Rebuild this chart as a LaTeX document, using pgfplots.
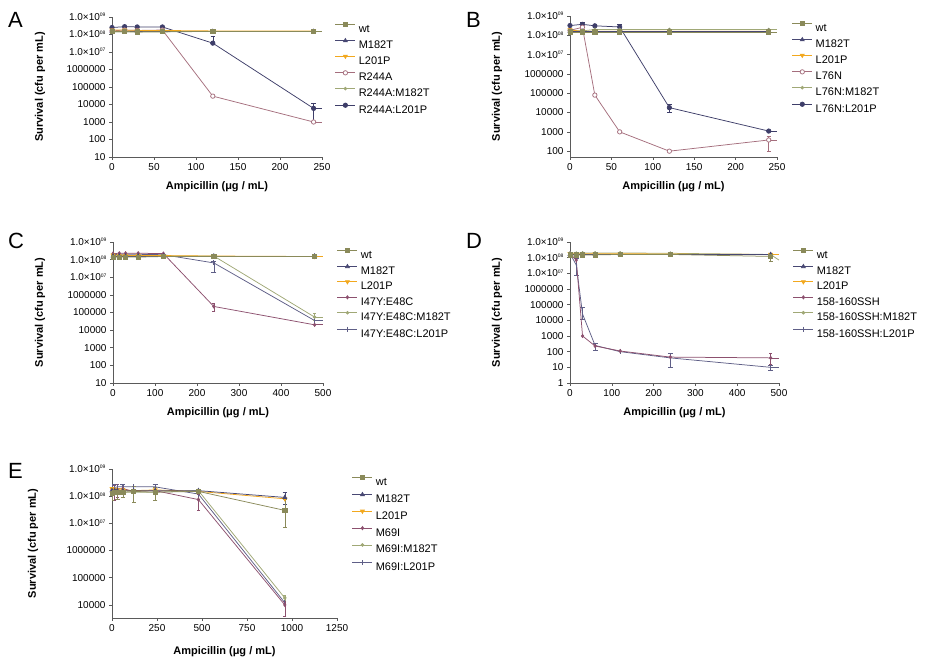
\documentclass[border=0pt]{standalone}
\usepackage{fontspec}
\setmainfont{Liberation Sans}
\usepackage{pgfplots}
\pgfplotsset{compat=1.18}
\definecolor{cwt}{RGB}{138,138,90}
\definecolor{cm182}{RGB}{72,72,115}
\definecolor{cl201}{RGB}{242,168,30}
\definecolor{cmut}{RGB}{165,110,125}
\definecolor{cmutb}{RGB}{140,80,110}
\definecolor{cmutm}{RGB}{160,168,118}
\definecolor{cmutl}{RGB}{62,62,105}
\definecolor{cmutl2}{RGB}{95,95,135}
\definecolor{caxis}{RGB}{90,90,90}
\newcommand\sx[1]{1.0×10\raisebox{3.5pt}{\fontsize{5}{5}\selectfont #1}}
\pgfplotsset{
  myaxisstyle/.style={scale only axis, axis x line=bottom, axis y line=left,
    axis line style={-, caxis, line width=0.8pt}, tick align=outside, major tick length=3pt,
    tick style={caxis, line width=0.6pt}, yminorticks=false, xminorticks=false,
    ticklabel style={font=\fontsize{10}{10}\selectfont, text=black},
    /pgf/number format/assume math mode=true, /pgf/number format/1000 sep={},
    label style={font=\fontsize{11}{11}\selectfont\bfseries},
    xlabel={Ampicillin (μg / mL)}, ylabel={Survival (cfu per mL)},
    legend cell align=left, reverse legend,
    legend image code/.code={\draw[mark repeat=2, mark phase=2, ##1] plot coordinates {(0pt,4pt)(10pt,4pt)(20pt,4pt)};},
    legend style={draw=none, fill=none, inner sep=0pt, outer sep=0pt, font=\fontsize{11}{11}\selectfont,
      nodes={inner sep=0pt, text height=8pt, text depth=0pt}, column sep=3pt, anchor=north west},
    every axis plot/.append style={line width=0.75pt},
    error bars/error bar style={line width=0.6pt},
  },
  swt/.style={color=cwt, mark=square*, mark size=2.1pt},
  sm182/.style={color=cm182, mark=triangle*, mark size=2.2pt},
  sl201/.style={color=cl201, mark=triangle*, mark size=2.2pt, mark options={rotate=180}},
  sopen/.style={color=cmut, mark=*, mark size=2.2pt, mark options={fill=white, draw=cmut}},
  sdiam/.style={color=cmutb, mark=diamond*, mark size=1.6pt},
  smid/.style={color=cmutm, mark=*, mark size=1.4pt},
  sdot/.style={color=cmutl, mark=*, mark size=2.2pt},
  sbar/.style={color=cmutl2, mark=|, mark size=2.5pt},
  eb/.style={error bars/.cd, y dir=both, y explicit},
  stub/.style={forget plot, no marks, line width=0.75pt},
}
\begin{document}
\begin{tikzpicture}
\useasboundingbox (0,0) rectangle (925pt,660pt);
% ---------------- A ----------------
\begin{axis}[ymode=log, myaxisstyle, at={(112pt,503pt)}, anchor=south west, width=210pt, height=140pt,
  xmin=0, xmax=250, ymin=10, ymax=1e9, xtick={0,50,100,150,200,250},
  ytick={10,100,1000,10000,100000,1000000,10000000,100000000,1000000000},
  yticklabels={10,100,1000,10000,100000,1000000,\sx{07},\sx{08},\sx{09}},
  xlabel style={at={(axis description cs:0.5,-0.214)}, anchor=center},
  ylabel style={at={(axis description cs:-0.343,0.5)}, anchor=center},
  legend style={at={(axis description cs:1.062,0.964)}, row sep=6.4pt}]
\addplot[sdot, eb] coordinates {(0,2.5e8)(15,2.8e8)(30,2.7e8)(60,2.7e8)(120,3.2e7) += (0,4.8e7) -= (0,0) (240,6e3) += (0,6e3) -= (0,5e3)};
\addplot[smid] coordinates {(0,1.4e8)(15,1.4e8)(30,1.4e8)(60,1.4e8)(120,1.5e8)(240,1.5e8)};
\addplot[sopen] coordinates {(0,1.6e8)(15,1.8e8)(30,1.7e8)(60,1.8e8)(120,3e4)(240,1000)};
\addplot[sl201] coordinates {(0,1.8e8)(15,1.8e8)(30,1.7e8)(60,1.7e8)(120,1.6e8)(240,1.6e8)};
\addplot[sm182] coordinates {(0,1.5e8)(15,1.5e8)(30,1.5e8)(60,1.5e8)(120,1.5e8)(240,1.5e8)};
\addplot[swt] coordinates {(0,1.5e8)(15,1.5e8)(30,1.4e8)(60,1.45e8)(120,1.5e8)(240,1.5e8)};
\addplot[stub, color=cmutl] coordinates {(240,6e3)(250,6e3)};
\addplot[stub, color=cmut] coordinates {(240,1000)(250,1000)};
\addplot[stub, color=cwt] coordinates {(240,1.5e8)(250,1.5e8)};
\legend{R244A:L201P,R244A:M182T,R244A,L201P,M182T,wt}
\end{axis}
% ---------------- B ----------------
\begin{axis}[ymode=log, myaxisstyle, at={(570pt,503pt)}, anchor=south west, width=207pt, height=141pt,
  xmin=0, xmax=250, ymin=50, ymax=1e9, xtick={0,50,100,150,200,250},
  ytick={100,1000,10000,100000,1000000,10000000,100000000,1000000000},
  yticklabels={100,1000,10000,100000,1000000,\sx{07},\sx{08},\sx{09}},
  xlabel style={at={(axis description cs:0.5,-0.213)}, anchor=center},
  ylabel style={at={(axis description cs:-0.353,0.5)}, anchor=center},
  legend style={at={(axis description cs:1.072,0.964)}, row sep=6.4pt}]
\addplot[sdot, eb] coordinates {(0,3.2e8)(15,3.7e8) += (0,1e8) -= (0,0) (30,3.1e8)(60,2.7e8) += (0,1e8) -= (0,1e8) (120,1.8e4) += (0,8e3) -= (0,8e3) (240,1.1e3)};
\addplot[smid] coordinates {(0,1.8e8)(15,1.7e8)(30,2e8)(60,2e8)(120,2e8)(240,2e8)};
\addplot[sopen, eb] coordinates {(0,1.8e8)(15,2.6e8)(30,8e4)(60,1000)(120,100)(240,380) += (0,250) -= (0,280)};
\addplot[sl201] coordinates {(0,1.9e8)(15,1.6e8)(30,1.6e8)(60,1.6e8)(120,1.6e8)(240,1.6e8)};
\addplot[sm182] coordinates {(0,1.6e8)(15,1.6e8)(30,1.6e8)(60,1.6e8)(120,1.6e8)(240,1.6e8)};
\addplot[swt] coordinates {(0,1.5e8)(15,1.5e8)(30,1.5e8)(60,1.5e8)(120,1.5e8)(240,1.5e8)};
\addplot[stub, color=cmutl] coordinates {(240,1.1e3)(250,1.1e3)};
\addplot[stub, color=cmut] coordinates {(240,380)(250,380)};
\addplot[stub, color=cmutm] coordinates {(240,2e8)(250,2e8)};
\addplot[stub, color=cwt] coordinates {(240,1.5e8)(250,1.5e8)};
\legend{L76N:L201P,L76N:M182T,L76N,L201P,M182T,wt}
\end{axis}
% ---------------- C ----------------
\begin{axis}[ymode=log, myaxisstyle, at={(113pt,277pt)}, anchor=south west, width=210pt, height=141pt,
  xmin=0, xmax=500, ymin=10, ymax=1e9, xtick={0,100,200,300,400,500},
  ytick={10,100,1000,10000,100000,1000000,10000000,100000000,1000000000},
  yticklabels={10,100,1000,10000,100000,1000000,\sx{07},\sx{08},\sx{09}},
  xlabel style={at={(axis description cs:0.5,-0.213)}, anchor=center},
  ylabel style={at={(axis description cs:-0.348,0.5)}, anchor=center},
  legend style={at={(axis description cs:1.067,0.955)}, row sep=6pt}]
\addplot[sbar, eb] coordinates {(0,1.9e8)(15,2e8)(30,2e8)(60,2e8)(120,1.9e8)(240,6.5e7) += (0,2e7) -= (0,4.5e7) (480,3.5e4)};
\addplot[smid, eb] coordinates {(0,1.6e8)(15,1.6e8)(30,1.6e8)(60,1.6e8)(120,1.6e8)(240,1.6e8)(480,5.5e4) += (0,3.5e4) -= (0,2e4)};
\addplot[sdiam, eb] coordinates {(0,2.2e8)(15,2.3e8)(30,2.3e8)(60,2.3e8)(120,2.2e8)(240,2.2e5) += (0,1.1e5) -= (0,1e5) (480,2e4)};
\addplot[sl201] coordinates {(0,1.8e8)(15,1.7e8)(30,1.7e8)(60,1.7e8)(120,1.7e8)(240,1.6e8)(480,1.5e8)};
\addplot[sm182] coordinates {(0,1.6e8)(15,1.6e8)(30,1.6e8)(60,1.6e8)(120,1.6e8)(240,1.6e8)(480,1.6e8)};
\addplot[swt] coordinates {(0,1.4e8)(15,1.4e8)(30,1.4e8)(60,1.4e8)(120,1.5e8)(240,1.5e8)(480,1.5e8)};
\addplot[stub, color=cmutl2] coordinates {(480,3.5e4)(500,3.5e4)};
\addplot[stub, color=cmutm] coordinates {(480,5.5e4)(500,5.5e4)};
\addplot[stub, color=cmutb] coordinates {(480,2e4)(500,2e4)};
\addplot[stub, color=cl201] coordinates {(480,1.5e8)(500,1.5e8)};
\legend{I47Y:E48C:L201P,I47Y:E48C:M182T,I47Y:E48C,L201P,M182T,wt}
\end{axis}
% ---------------- D ----------------
\begin{axis}[ymode=log, myaxisstyle, at={(570pt,277pt)}, anchor=south west, width=209pt, height=141pt,
  xmin=0, xmax=500, ymin=1, ymax=1e9, xtick={0,100,200,300,400,500},
  ytick={1,10,100,1000,10000,100000,1000000,10000000,100000000,1000000000},
  yticklabels={1,10,100,1000,10000,100000,1000000,\sx{07},\sx{08},\sx{09}},
  xlabel style={at={(axis description cs:0.5,-0.213)}, anchor=center},
  ylabel style={at={(axis description cs:-0.349,0.5)}, anchor=center},
  legend style={at={(axis description cs:1.067,0.955)}, row sep=6pt}]
\addplot[sbar, eb] coordinates {(0,1.8e8)(15,3.4e7) += (0,6e7) -= (0,2.6e7) (30,2.5e4) += (0,4e4) -= (0,1.3e4) (60,250) += (0,100) -= (0,130) (120,100) (240,40) += (0,35) -= (0,30) (480,10) += (0,4) -= (0,3)};
\addplot[smid, eb] coordinates {(0,2e8)(15,1.9e8)(30,2e8)(60,2e8)(120,2e8)(240,1.9e8)(480,1.6e8)};
\addplot[sdiam, eb] coordinates {(0,1.8e8)(15,7e7)(30,1000)(60,230)(120,110)(240,45)(480,40) += (0,40) -= (0,25)};
\addplot[sl201] coordinates {(0,1.8e8)(15,1.8e8)(30,1.8e8)(60,1.8e8)(120,1.8e8)(240,1.7e8)(480,1.6e8)};
\addplot[sm182] coordinates {(0,1.6e8)(15,1.6e8)(30,1.6e8)(60,1.6e8)(120,1.6e8)(240,1.6e8)(480,1.6e8)};
\addplot[swt, eb] coordinates {(0,1.5e8)(15,1.5e8)(30,1.5e8)(60,1.5e8)(120,1.6e8)(240,1.6e8)(480,1.2e8) += (0,4e7) -= (0,6e7)};
\addplot[stub, color=cmutl2] coordinates {(480,10)(500,10)};
\addplot[stub, color=cmutb] coordinates {(480,40)(500,40)};
\addplot[stub, color=cmutm] coordinates {(480,1.6e8)(500,7e7)};
\addplot[stub, color=cl201] coordinates {(480,1.6e8)(500,1.6e8)};
\legend{158-160SSH:L201P,158-160SSH:M182T,158-160SSH,L201P,M182T,wt}
\end{axis}
% ---------------- E ----------------
\begin{axis}[ymode=log, myaxisstyle, at={(112pt,42pt)}, anchor=south west, width=225pt, height=149pt,
  xmin=0, xmax=1250, ymin=3300, ymax=1e9, xtick={0,250,500,750,1000,1250},
  ytick={10000,100000,1000000,10000000,100000000,1000000000},
  yticklabels={10000,100000,1000000,\sx{07},\sx{08},\sx{09}},
  xlabel style={at={(axis description cs:0.5,-0.228)}, anchor=center},
  ylabel style={at={(axis description cs:-0.351,0.5)}, anchor=center},
  legend style={at={(axis description cs:1.067,0.960)}, row sep=7.4pt}]
\addplot[sbar, eb] coordinates {(0,2e8)(15,2.1e8) += (0,6e7) -= (0,8e7) (30,2.2e8)(60,2.2e8) += (0,6e7) -= (0,6e7) (120,2.2e8)(240,2.2e8) += (0,6e7) -= (0,6e7) (480,1.2e8)(960,1.2e4)};
\addplot[smid, eb] coordinates {(0,1.2e8)(15,1.3e8)(30,1.3e8)(60,1.4e8)(120,1.4e8)(240,1.4e8)(480,1.6e8)(960,1.8e4) += (0,4e3) -= (0,4e3)};
\addplot[sdiam, eb] coordinates {(0,1.7e8)(15,1.6e8) += (0,9e7) -= (0,9e7) (30,1.8e8) += (0,9e7) -= (0,9e7) (60,1.9e8)(120,1.5e8)(240,1.6e8)(480,7.5e7) += (0,4.5e7) -= (0,4.5e7) (960,1e4) += (0,4e3) -= (0,6e3)};
\addplot[sl201] coordinates {(0,1.9e8)(15,1.8e8)(30,1.7e8)(60,1.7e8)(120,1.6e8)(240,1.7e8)(480,1.5e8)(960,8e7)};
\addplot[sm182, eb] coordinates {(0,1.6e8)(15,1.6e8)(30,1.6e8)(60,1.6e8)(120,1.6e8)(240,1.6e8)(480,1.6e8)(960,9e7) += (0,5e7) -= (0,4e7)};
\addplot[swt, eb] coordinates {(0,1.3e8) += (0,6e7) -= (0,6e7) (15,1.4e8)(30,1.4e8) += (0,5e7) -= (0,6e7) (60,1.4e8) += (0,6e7) -= (0,5e7) (120,1.5e8) += (0,8e7) -= (0,9e7) (240,1.4e8) += (0,7e7) -= (0,7e7) (480,1.5e8)(960,3e7) += (0,5e7) -= (0,2.3e7)};
\legend{M69I:L201P,M69I:M182T,M69I,L201P,M182T,wt}
\end{axis}
% panel letters
\node[anchor=north west, inner sep=0pt, font=\fontsize{22}{22}\selectfont] at (8pt,648pt) {A};
\node[anchor=north west, inner sep=0pt, font=\fontsize{22}{22}\selectfont] at (466pt,648pt) {B};
\node[anchor=north west, inner sep=0pt, font=\fontsize{22}{22}\selectfont] at (8pt,427pt) {C};
\node[anchor=north west, inner sep=0pt, font=\fontsize{22}{22}\selectfont] at (466pt,427pt) {D};
\node[anchor=north west, inner sep=0pt, font=\fontsize{22}{22}\selectfont] at (8pt,197pt) {E};
\end{tikzpicture}
\end{document}
